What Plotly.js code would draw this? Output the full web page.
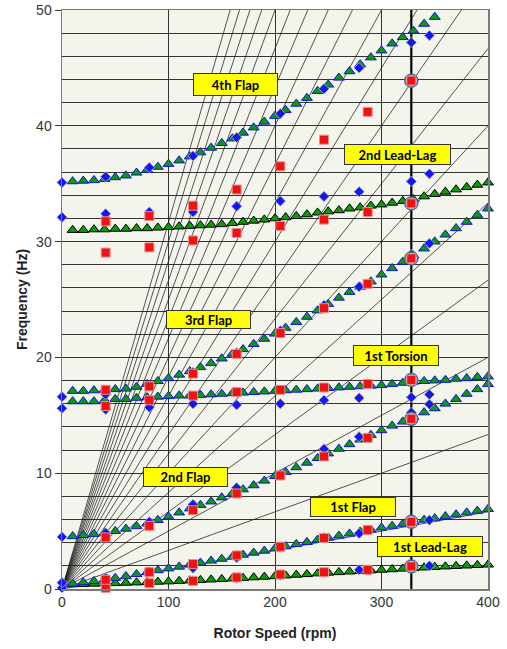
<!DOCTYPE html>
<html><head><meta charset="utf-8">
<script src="https://cdn.plot.ly/plotly-3.0.1.min.js"></script>
<style>html,body{margin:0;padding:0;background:#fff}#chart{width:507px;height:649px}</style>
</head><body><div id="chart"></div>
<script>
// ---- DATA ----
const rotorSpeeds = [10,20,30,40,50,60,70,80,90,100,110,120,130,140,150,160,170,180,190,200,210,220,230,240,250,260,270,280,290,300,310,320,330,340,350,360,370,380,390,400];
// analysis (triangles)
const calcLag1 = [0.40,0.42,0.45,0.48,0.50,0.53,0.56,0.59,0.62,0.65,0.69,0.73,0.77,0.81,0.85,0.90,0.95,1.00,1.05,1.10,1.16,1.22,1.28,1.34,1.40,1.45,1.50,1.55,1.60,1.65,1.70,1.75,1.80,1.85,1.90,1.94,1.98,2.02,2.06,2.10];
const calcLag2 = [31.0,31.0,31.05,31.05,31.1,31.1,31.15,31.15,31.2,31.25,31.3,31.35,31.4,31.45,31.5,31.6,31.7,31.8,31.9,32.0,32.1,32.2,32.35,32.5,32.6,32.7,32.85,32.95,33.1,33.2,33.35,33.5,33.65,33.9,34.1,34.3,34.5,34.7,34.9,35.1];
const calcFlap1 = [0.45,0.57,0.68,0.82,0.95,1.1,1.28,1.45,1.62,1.77,1.92,2.1,2.27,2.44,2.6,2.78,2.95,3.13,3.3,3.5,3.68,3.87,4.05,4.25,4.43,4.6,4.78,4.95,5.12,5.3,5.45,5.62,5.8,5.97,6.1,6.28,6.43,6.6,6.75,6.9];
const calcFlap2 = [4.55,4.65,4.75,4.85,5.0,5.2,5.42,5.65,5.95,6.25,6.6,6.95,7.25,7.55,7.9,8.25,8.6,8.95,9.35,9.75,10.1,10.5,10.9,11.3,11.7,12.1,12.5,12.9,13.3,13.7,14.1,14.45,14.85,15.25,15.6,16.0,16.4,16.85,17.25,17.7];
const calcTorsion1 = [16.2,16.2,16.2,16.3,16.4,16.4,16.5,16.55,16.6,16.65,16.7,16.7,16.75,16.8,16.85,16.9,16.95,17.0,17.05,17.1,17.15,17.2,17.25,17.3,17.35,17.4,17.45,17.5,17.55,17.6,17.7,17.8,17.9,17.95,18.0,18.05,18.15,18.2,18.3,18.35];
const calcFlap3 = [17.1,17.1,17.15,17.2,17.25,17.3,17.45,17.7,17.95,18.2,18.5,18.8,19.15,19.5,19.9,20.3,20.7,21.15,21.6,22.05,22.55,23.05,23.5,24.05,24.6,25.15,25.65,26.1,26.55,27.15,27.7,28.25,28.8,29.4,30.0,30.6,31.15,31.7,32.3,32.85];
const calcFlap4 = [35.2,35.25,35.3,35.4,35.55,35.7,35.95,36.2,36.45,36.7,37.0,37.35,37.7,38.1,38.5,38.9,39.4,39.85,40.35,40.85,41.35,41.9,42.4,43.0,43.55,44.15,44.7,45.3,45.9,46.5,47.1,47.65,48.2,48.8,49.4,null,null,null,null,null];

// test set A (diamonds)
const diamondRpm = [0,41,82,123,164,205,246,279,328,345];
const diaLag1   = [0.1,0.3,0.5,0.7,0.95,1.2,1.45,1.65,1.9,2.0];
const diaFlap1  = [0.55,0.95,1.5,1.8,2.7,3.6,4.45,4.8,5.9,5.95];
const diaFlap2  = [4.5,4.85,5.8,7.3,8.75,9.9,12.1,13.15,15.25,15.95];
const diaTors   = [15.6,15.5,15.7,16.0,15.9,16.0,16.3,16.5,16.55,16.8];
const diaFlap3  = [16.6,16.8,17.5,18.7,20.4,22.3,24.5,26.1,28.9,29.85];
const diaLag2   = [32.1,32.4,32.55,32.55,33.05,33.5,33.9,34.3,35.2,35.85];
const diaFlap4  = [35.1,35.6,36.4,37.4,39.0,41.05,43.2,45.0,47.2,47.8];

// test set B (squares)
const squareRpm = [41,82,123,164,205,246,287,328];
const sqLag1    = [0.1,0.5,0.7,1.0,1.25,1.45,1.65,1.95];
const sqFlap1   = [0.8,1.45,2.15,2.9,3.65,4.4,5.1,5.8];
const sqFlap2   = [4.45,5.45,6.8,8.25,9.8,11.45,13.05,14.7];
const sqTors    = [15.8,16.3,16.7,17.0,17.2,17.4,17.7,18.05];
const sqFlap3   = [17.2,17.5,18.6,20.3,22.1,24.25,26.35,28.55];
const sqLow     = [29.05,29.5,30.1,30.75,31.35,31.9,32.55,33.3];
const sqHigh    = [31.75,32.2,33.1,34.5,36.5,38.8,41.2,43.9];

// nominal speed highlights (circles)
const nominalRpm = 328;
const circleFreq = [1.95,5.8,14.7,18.05,28.55,33.3,43.9];

// per-rev harmonics
const harmonics = [1,2,3,4,5,6,7,8,9,10,11,12,13,14,15,16,17,18,19];
const rpmRange = [0,400];

// mode labels
const modeLabels = ["4th Flap","2nd Lead-Lag","3rd Flap","1st Torsion","2nd Flap","1st Flap","1st Lead-Lag"];

// ---- BUILD ----
const traces = [];
const prX = [], prY = [];
harmonics.forEach(n => { prX.push(rpmRange[0], rpmRange[1], null); prY.push(n*rpmRange[0]/60, n*rpmRange[1]/60, null); });
traces.push({x: prX, y: prY, mode: 'lines', line: {color: '#1e1e1e', width: 0.75}, hoverinfo: 'skip'});
traces.push({x: [nominalRpm, nominalRpm], y: [0, 50], mode: 'lines', line: {color: '#000', width: 2.2}, hoverinfo: 'skip'});

const triStyleLag = {symbol: 'triangle-up', size: 9.5, color: '#0a9a0a', line: {color: '#000', width: 1}};
const triStyleFlap = {symbol: 'triangle-up', size: 9.5, color: '#0a9a0a', line: {color: '#1010e0', width: 1}};
[calcLag1, calcLag2].forEach(s => traces.push({x: rotorSpeeds, y: s, mode: 'markers', marker: triStyleLag, cliponaxis: false}));
[calcFlap1, calcFlap2, calcTorsion1, calcFlap3, calcFlap4].forEach(s => traces.push({x: rotorSpeeds, y: s, mode: 'markers', marker: triStyleFlap, cliponaxis: false}));

const diaStyle = {symbol: 'diamond', size: 8, color: '#1414ff', line: {color: '#b8c890', width: 0.8}};
[diaLag1, diaFlap1, diaFlap2, diaTors, diaFlap3, diaLag2, diaFlap4].forEach(s => traces.push({x: diamondRpm, y: s, mode: 'markers', marker: diaStyle, cliponaxis: false}));

traces.push({x: circleFreq.map(() => nominalRpm), y: circleFreq, mode: 'markers', marker: {symbol: 'circle', size: 13, color: '#a9c6de', line: {color: '#3c6e96', width: 1.5}}, cliponaxis: false});

const sqStyle = {symbol: 'square', size: 9, color: '#f21010', line: {color: '#e89090', width: 1}};
[sqLag1, sqFlap1, sqFlap2, sqTors, sqFlap3, sqLow, sqHigh].forEach(s => traces.push({x: squareRpm, y: s, mode: 'markers', marker: sqStyle, cliponaxis: false}));

const labelPos = [[163,43.6,85,23],[315,37.5,107,21],[138,23.25,85,19],[313.5,20.15,86,21],[116,9.7,85,20],[273,7.1,86,20],[345.5,3.7,106,21]];
const annotations = modeLabels.map((t,i) => ({
  x: labelPos[i][0], y: labelPos[i][1], xref: 'x', yref: 'y', text: '<b>'+t+'</b>', showarrow: false,
  bgcolor: '#ffff00', bordercolor: '#333', borderwidth: 1, borderpad: 0,
  width: labelPos[i][2]-2, height: labelPos[i][3]-2,
  font: {family: 'Lato, "Liberation Sans", sans-serif', size: 13, color: '#000'}
}));

const axisFont = {family: '"Liberation Sans", Arial, sans-serif', size: 14, color: '#333'};
const layout = {
  width: 507, height: 649,
  margin: {l: 62, r: 19, t: 10, b: 60},
  paper_bgcolor: '#fff', plot_bgcolor: '#f3f5ec',
  showlegend: false,
  xaxis: {
    range: [0, 400], dtick: 100, tick0: 0, showgrid: true, gridcolor: '#333', gridwidth: 1,
    zeroline: false, showline: true, linecolor: '#7a7a7a', linewidth: 1.5, mirror: true, ticks: '',
    tickfont: axisFont, automargin: false,
    title: {text: '<b>Rotor Speed (rpm)</b>', font: {family: '"Liberation Sans", Arial, sans-serif', size: 14, color: '#222'}, standoff: 19}
  },
  yaxis: {
    range: [0, 50], dtick: 10, tick0: 0, showgrid: true, gridcolor: '#333', gridwidth: 1,
    minor: {dtick: 2, showgrid: true, gridcolor: '#333', gridwidth: 1},
    zeroline: false, showline: true, linecolor: '#7a7a7a', linewidth: 1.5, mirror: true,
    ticks: 'outside', ticklen: 6, tickcolor: '#333', automargin: false,
    tickfont: axisFont,
    title: {text: '<b>Frequency (Hz)</b>', font: {family: '"Liberation Sans", Arial, sans-serif', size: 14, color: '#222'}, standoff: 5}
  },
  annotations: annotations
};
Plotly.newPlot('chart', traces, layout, {staticPlot: true, displayModeBar: false});
</script></body></html>
